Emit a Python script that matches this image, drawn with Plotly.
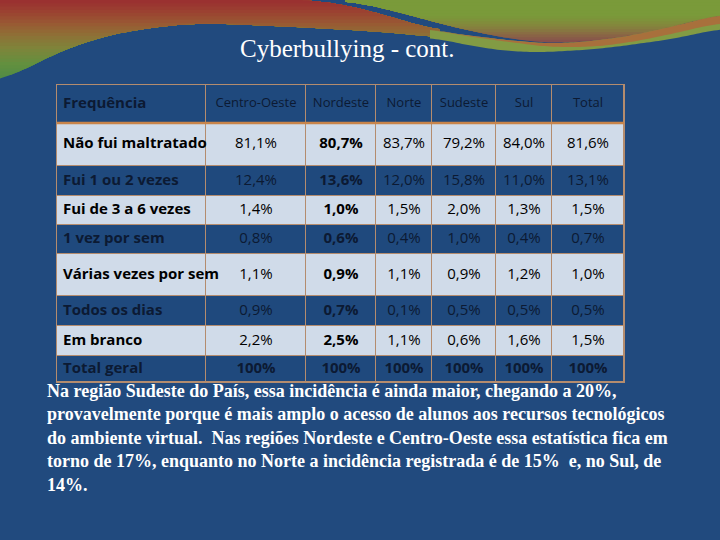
import numpy as np
import plotly.graph_objects as go

W, H = 720, 540

# table data
regions = ["Centro-Oeste", "Nordeste", "Norte", "Sudeste", "Sul", "Total"]
frequencias = ["Não fui maltratado", "Fui 1 ou 2 vezes", "Fui de 3 a 6 vezes", "1 vez por sem",
               "Várias vezes por sem", "Todos os dias", "Em branco", "Total geral"]
centro_oeste = [81.1, 12.4, 1.4, 0.8, 1.1, 0.9, 2.2, 100]
nordeste = [80.7, 13.6, 1.0, 0.6, 0.9, 0.7, 2.5, 100]
norte = [83.7, 12.0, 1.5, 0.4, 1.1, 0.1, 1.1, 100]
sudeste = [79.2, 15.8, 2.0, 1.0, 0.9, 0.5, 0.6, 100]
sul = [84.0, 11.0, 1.3, 0.4, 1.2, 0.5, 1.6, 100]
total = [81.6, 13.1, 1.5, 0.7, 1.0, 0.5, 1.5, 100]

titulo = "Cyberbullying - cont."
texto = ("Na região Sudeste do País, essa incidência é ainda maior, chegando a 20%,<br>"
         "provavelmente porque é mais amplo o acesso de alunos aos recursos tecnológicos<br>"
         "do ambiente virtual.  Nas regiões Nordeste e Centro-Oeste essa estatística fica em<br>"
         "torno de 17%, enquanto no Norte a incidência registrada é de 15%  e, no Sul, de<br>"
         "14%.")

# table geometry (pixels on the slide) and styles
col_edges = [57, 206, 306, 376, 432, 496, 552, 624]
row_edges = [85, 123, 166, 196, 225, 254, 296, 326, 356, 382]

BG = "#214a7e"
DARK = "#1f497d"
LIGHT = "#d0dbe9"
GRID = "#b48c6e"
FONT = "Open Sans"


def fmt(v):
    if v == 100:
        return "100%"
    return f"{v:.1f}".replace(".", ",") + "%"


series = [centro_oeste, nordeste, norte, sudeste, sul, total]
n = len(frequencias)
last = n - 1

# --- decorative swooshes of the slide template ---
def curve(pts, xs):
    px, py = zip(*pts)
    y = np.interp(xs, px, py)
    k = 9
    pad = np.pad(y, k, mode="edge")
    return np.convolve(pad, np.ones(2 * k + 1) / (2 * k + 1), mode="same")[k:-k]


def to_path(xs, top, bot):
    pts = list(zip(xs, top)) + list(zip(xs[::-1], bot[::-1]))
    s = "M " + " L ".join("%.4f,%.4f" % (x / W, 1 - y / H) for x, y in pts)
    return s + " Z"


def hex2rgb(h):
    return np.array([int(h[i:i + 2], 16) for i in (1, 3, 5)], dtype=float)


def color_at(y, stops):
    ys = [s[0] for s in stops]
    rgb = [hex2rgb(s[1]) for s in stops]
    c = [np.interp(y, ys, [r[k] for r in rgb]) for k in range(3)]
    return "rgb(%d,%d,%d)" % tuple(int(round(v)) for v in c)


shapes = []


def gradient(xs, top, bot, stops, nband=24):
    ymax = float(bot.max())
    levels = np.linspace(ymax, 0, nband, endpoint=False)
    for ylim in levels:
        b = np.maximum(top, np.minimum(bot, ylim))
        shapes.append(dict(type="path", path=to_path(xs, top, b), xref="paper", yref="paper",
                           fillcolor=color_at(ylim - ymax / nband / 2, stops),
                           line=dict(width=0), layer="above"))


# left swoosh
xa = np.linspace(0, 440, 120)
ta = curve([(0, 0), (323, 0), (383, 14), (440, 32)], xa)
ta[xa < 300] = 0
ba = curve([(0, 84), (33, 63), (100, 36), (170, 25), (200, 23), (300, 27), (400, 33), (440, 38)], xa)
gradient(xa, ta, ba, [(0, "#9a2e30"), (12, "#9b4231"), (24, "#985a33"), (34, "#8f6e36"),
                      (48, "#7f843a"), (64, "#63903f"), (84, "#4a8a48")])

# upper right green swoosh
xb = np.linspace(345, 720, 110)
tb = np.zeros_like(xb)
bb = curve([(345, 0), (400, 12), (440, 24), (480, 33), (523, 41), (560, 44), (620, 38),
            (680, 25), (720, 13)], xb)
gradient(xb, tb, bb, [(0, "#7a9a3a"), (16, "#7a9a3a"), (26, "#84853c"), (34, "#8a6a44"),
                      (44, "#86464f")], nband=16)

# lower right band
xc = np.linspace(430, 720, 100)
tc = curve([(430, 28), (440, 32), (523, 42), (560, 44), (620, 38), (680, 25), (720, 14)], xc)
bc = curve([(430, 37), (440, 39), (480, 48), (530, 53), (600, 49), (680, 38), (720, 28)], xc)
shapes.append(dict(type="path", path=to_path(xc, tc, bc), xref="paper", yref="paper",
                   fillcolor="#829b44", line=dict(width=0), layer="above"))
wc = np.interp(xc, [430, 520, 600, 720], [0, 2, 6, 8])
shapes.append(dict(type="path", path=to_path(xc, tc, tc + wc), xref="paper", yref="paper",
                   fillcolor="#a8703c", line=dict(width=0), layer="above"))

# --- table: cells as a heatmap with gaps, text as a text trace ---
fig = go.Figure()

# tan backing that shows through the cell gaps as grid lines
fig.add_trace(go.Heatmap(
    x=[col_edges[0] - 1, col_edges[-1] + 1], y=[row_edges[0] - 1, row_edges[-1] + 1],
    z=[[0]], colorscale=[[0, GRID], [1, GRID]], showscale=False, hoverinfo="skip",
))

# 0 = light row, 1 = dark row (header counts as dark)
z = [[1] * (len(regions) + 1)] + [[i % 2] * (len(regions) + 1) for i in range(n)]
fig.add_trace(go.Heatmap(
    x=col_edges, y=row_edges, z=z, zmin=0, zmax=1,
    colorscale=[[0, LIGHT], [1, DARK]], showscale=False,
    xgap=1, ygap=1, hoverinfo="skip",
))

row_mid = [(row_edges[i] + row_edges[i + 1]) / 2 for i in range(len(row_edges) - 1)]
col_mid = [(col_edges[j] + col_edges[j + 1]) / 2 for j in range(len(col_edges) - 1)]
dark_txt = "#0c1a33"

# first column: header + row labels, left aligned
fig.add_trace(go.Scatter(
    x=[col_edges[0] + 6] * (n + 1), y=row_mid, mode="text",
    text=["<b>Frequência</b>"] + ["<b>%s</b>" % f for f in frequencias],
    textposition="middle right",
    textfont=dict(family=FONT, size=15,
                  color=[dark_txt] + ["#000000" if i % 2 == 0 else dark_txt for i in range(n)]),
    hoverinfo="skip",
))

# header of the region columns
fig.add_trace(go.Scatter(
    x=col_mid[1:], y=[row_mid[0]] * len(regions), mode="text", text=regions,
    textposition="middle center",
    textfont=dict(family=FONT, size=13, color=dark_txt), hoverinfo="skip",
))

# values
vx, vy, vt, vc = [], [], [], []
for j, serie in enumerate(series):
    for i, v in enumerate(serie):
        s = fmt(v)
        if j == 1 or i == last:
            s = "<b>%s</b>" % s
        vx.append(col_mid[j + 1])
        vy.append(row_mid[i + 1])
        vt.append(s)
        vc.append("#000000" if i % 2 == 0 else dark_txt)
fig.add_trace(go.Scatter(
    x=vx, y=vy, mode="text", text=vt, textposition="middle center",
    textfont=dict(family=FONT, size=15, color=vc), hoverinfo="skip",
))

# thicker line under the header
shapes.append(dict(type="line", xref="x", yref="y", x0=col_edges[0], x1=col_edges[-1],
                   y0=row_edges[1], y1=row_edges[1], line=dict(color="#c8844a", width=2.5),
                   layer="above"))

fig.update_layout(
    width=W, height=H,
    margin=dict(l=0, r=0, t=0, b=0),
    paper_bgcolor=BG,
    plot_bgcolor=BG,
    xaxis=dict(range=[0, W], visible=False, fixedrange=True),
    yaxis=dict(range=[H, 0], visible=False, fixedrange=True),
    shapes=shapes,
    showlegend=False,
    annotations=[
        dict(text=titulo, x=347 / W, y=1 - 48 / H, xref="paper", yref="paper", showarrow=False,
             xanchor="center", yanchor="middle",
             font=dict(family="Liberation Serif", size=25, color="white")),
        dict(text="<b>%s</b>" % texto, x=45 / W, y=1 - 379 / H, xref="paper", yref="paper",
             showarrow=False, xanchor="left", yanchor="top", align="left",
             font=dict(family="Liberation Serif", size=18, color="white")),
    ],
)

fig.write_html("out.html", config={"displayModeBar": False},
               post_script="document.body.style.margin='0';")
